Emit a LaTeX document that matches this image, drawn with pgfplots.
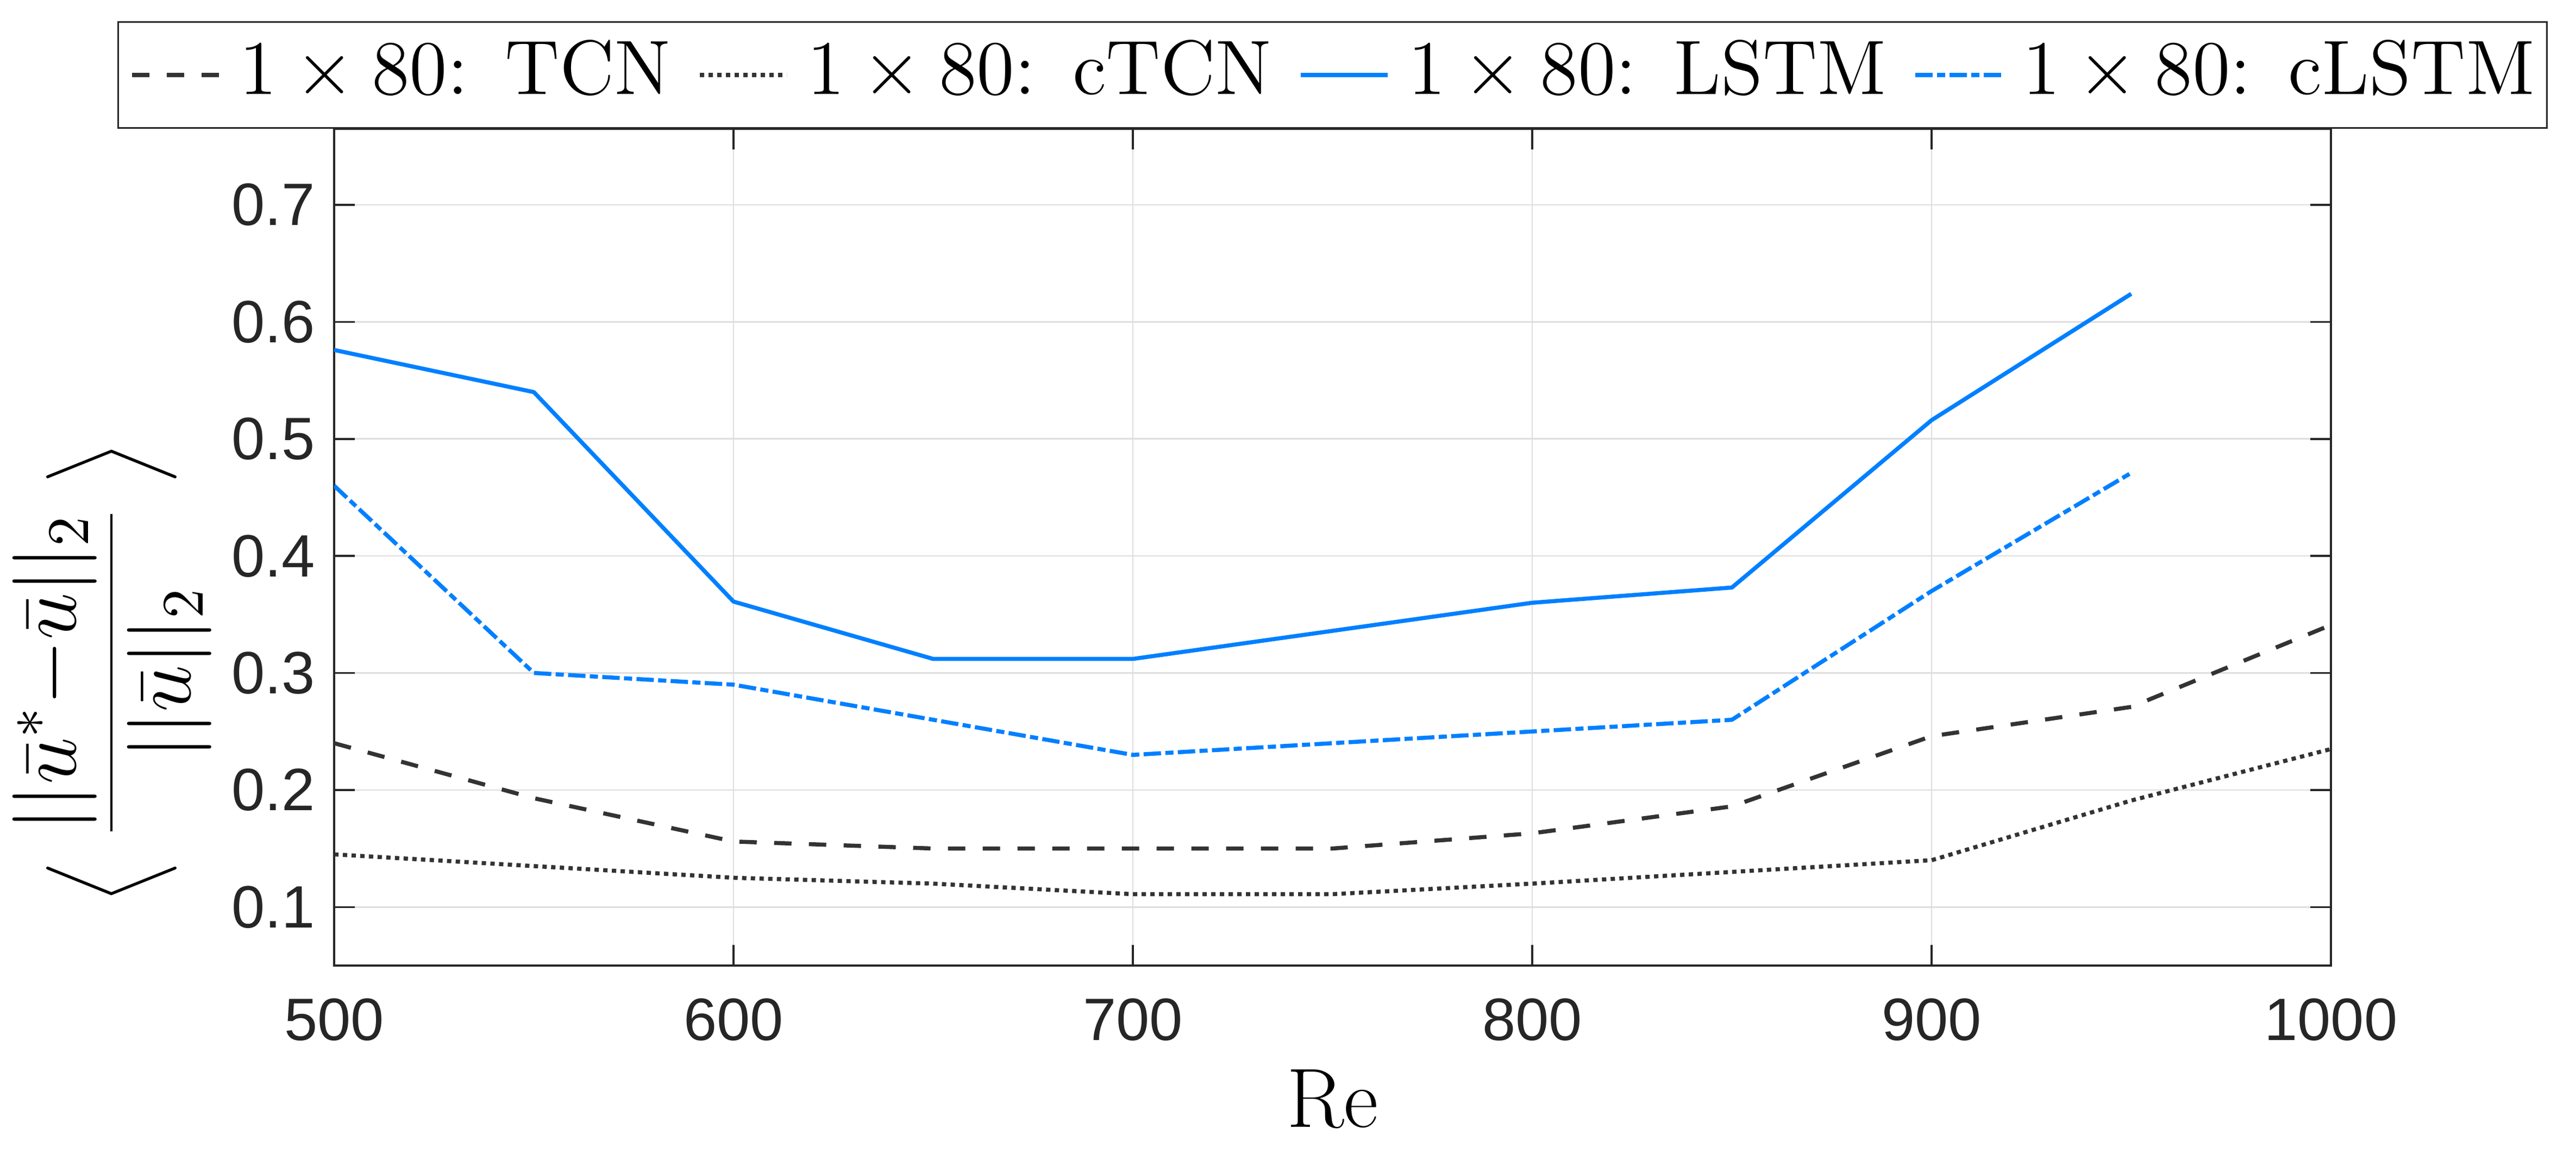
\RequirePackage{fix-cm}
\documentclass[border=0pt]{standalone}
\usepackage{fontspec}
\usepackage{pgfplots}
\pgfplotsset{compat=1.18}
\newfontfamily\ticksf{Liberation Sans}
\definecolor{mblue}{RGB}{0,128,255}
\definecolor{mgray}{RGB}{51,51,51}
\definecolor{axgray}{RGB}{38,38,38}
\definecolor{gridgray}{RGB}{222,222,222}
\begin{document}
\begin{tikzpicture}
\useasboundingbox (-61.5pt,-35.6pt) rectangle (412.6pt,177.7pt);
\begin{axis}[
  at={(0,0)}, anchor=south west,
  scale only axis, width=367.5pt, height=154pt,
  xmin=500, xmax=1000, ymin=0.05, ymax=0.765,
  xtick={500,600,700,800,900,1000},
  ytick={0.1,0.2,0.3,0.4,0.5,0.6,0.7},
  tick pos=both, tick align=inside, major tick length=3.8pt,
  tick style={axgray, line width=0.35pt},
  axis line style={axgray, line width=0.35pt},
  grid=major, grid style={gridgray, line width=0.27pt},
  /pgf/number format/assume math mode=true,
  ticklabel style={font=\ticksf\fontsize{11}{13}\selectfont, text=axgray},
  xticklabel style={yshift=-2.5pt, /pgf/number format/1000 sep={}},
  yticklabel style={/pgf/number format/.cd, fixed, fixed zerofill, precision=1},
  every axis y label/.style={at={(axis description cs:0,0.35)}, xshift=-40.9pt, rotate=90, anchor=center},
  every axis x label/.style={at={(axis description cs:0.5,0)}, yshift=-29.8pt, anchor=base},
  xlabel={\fontsize{15.5}{18}\selectfont$\mathrm{Re}$},
  ylabel={\fontsize{15.5}{18}\selectfont$\displaystyle\biggl\langle\;\frac{||\bar{u}^{*}{-}\bar{u}||_2}{||\bar{u}||_2}\;\biggr\rangle$},
  legend columns=4,
  legend cell align=left,
  legend image code/.code={\draw[#1] (0pt,0pt) -- (16pt,0pt);},
  legend style={at={(0.5,1)}, anchor=south, draw=axgray, line width=0.35pt, fill=white,
    inner xsep=2.2pt, inner ysep=2.5pt, font=\fontsize{14.2}{17}\selectfont,
    nodes={inner xsep=0pt, inner ysep=0pt, text height=10.8pt, text depth=3.7pt},
    /tikz/every odd column/.append style={column sep=3.4pt},
    /tikz/every even column/.append style={column sep=4.9pt}},
  every axis plot/.append style={line width=0.75pt, line join=round},
]
\addplot[mgray, dash pattern=on 3.2pt off 3.2pt] coordinates {
 (500,0.240)(550,0.193)(600,0.156)(650,0.150)(700,0.150)(750,0.150)(800,0.163)(850,0.186)(900,0.246)(950,0.271)(1000,0.341)};
\addlegendentry{$1\times 80$:\hspace{0.48em}TCN}
\addplot[mgray, dash pattern=on 0.8pt off 0.8pt] coordinates {
 (500,0.145)(550,0.135)(600,0.125)(650,0.120)(700,0.111)(750,0.111)(800,0.120)(850,0.130)(900,0.140)(950,0.191)(1000,0.235)};
\addlegendentry{$1\times 80$:\hspace{0.48em}cTCN}
\addplot[mblue, solid] coordinates {
 (500,0.576)(550,0.540)(600,0.361)(650,0.312)(700,0.312)(750,0.336)(800,0.360)(850,0.373)(900,0.516)(950,0.624)};
\addlegendentry{$1\times 80$:\hspace{0.48em}LSTM}
\addplot[mblue, dash pattern=on 3.2pt off 0.8pt on 1.5pt off 0.8pt] coordinates {
 (500,0.460)(550,0.300)(600,0.290)(650,0.260)(700,0.230)(750,0.240)(800,0.250)(850,0.260)(900,0.370)(950,0.471)};
\addlegendentry{$1\times 80$:\hspace{0.48em}cLSTM}
\end{axis}
\end{tikzpicture}
\end{document}
